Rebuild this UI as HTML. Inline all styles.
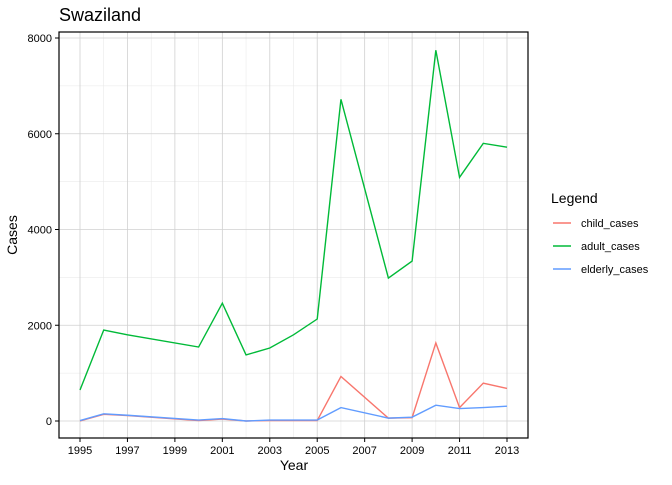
<!DOCTYPE html>
<html><head><meta charset="utf-8"><style>
body{margin:0;background:#fff;font-family:"Liberation Sans",sans-serif}
</style></head><body>
<svg id="c" width="672" height="480" xmlns="http://www.w3.org/2000/svg">
<text x="59" y="21" font-size="18" fill="#000">Swaziland</text>
<g id="grid"></g><g id="series"></g>
<rect x="59" y="32" width="469" height="406" fill="none" stroke="#000" stroke-width="1.2"/>
<g id="axes" font-size="11" fill="#000"></g>
<text x="294" y="470" font-size="14" text-anchor="middle">Year</text>
<text transform="translate(17,235) rotate(-90)" font-size="14" text-anchor="middle">Cases</text>
<g id="legend"></g>
</svg>
<script>
const years=[1995,1996,1997,2000,2001,2002,2003,2004,2005,2006,2008,2009,2010,2011,2012,2013];
const child=[0,140,115,10,40,0,10,10,10,930,60,70,1630,280,790,680];
const adult=[647,1900,1800,1545,2460,1380,1525,1800,2130,6720,2985,3340,7745,5090,5800,5720];
const elderly=[10,150,120,20,50,0,20,20,20,280,60,80,330,260,280,310];
const xTicks=[1995,1997,1999,2001,2003,2005,2007,2009,2011,2013];
const yTicks=[0,2000,4000,6000,8000];
const names=["child_cases","adult_cases","elderly_cases"];
const colors=["#F8766D","#00BA38","#619CFF"];
const NS="http://www.w3.org/2000/svg";
const x=v=>80+(v-1995)*(507-80)/18;
const y=v=>421-v*(421-38)/8000;
function mk(t,a,p){const e=document.createElementNS(NS,t);for(const k in a)e.setAttribute(k,a[k]);p.appendChild(e);return e;}
const g=document.getElementById('grid'),ax=document.getElementById('axes');
for(let v=1996;v<=2012;v+=2){const l=mk('line',{x1:x(v),x2:x(v),y1:32,y2:438,stroke:'#e6e6e6','stroke-width':0.5},g);

}
for(let v=1000;v<=7000;v+=2000){const l=mk('line',{x1:59,x2:528,y1:y(v),y2:y(v),stroke:'#e6e6e6','stroke-width':0.5},g);

}
xTicks.forEach(v=>{const l=mk('line',{x1:x(v),x2:x(v),y1:32,y2:438,stroke:'#d0d0d0','stroke-width':0.8},g);


mk('line',{x1:x(v),x2:x(v),y1:438,y2:442,stroke:'#000'},ax);
const t=mk('text',{x:x(v),y:454,'text-anchor':'middle'},ax);t.textContent=v;

});
yTicks.forEach(v=>{const l=mk('line',{x1:59,x2:528,y1:y(v),y2:y(v),stroke:'#d0d0d0','stroke-width':0.8},g);


mk('line',{x1:55,x2:59,y1:y(v),y2:y(v),stroke:'#000'},ax);
const t=mk('text',{x:52,y:y(v)+4,'text-anchor':'end'},ax);t.textContent=v;

});
const s=document.getElementById('series');
[child,adult,elderly].forEach((d,i)=>{const p=mk('polyline',{points:years.map((yr,j)=>x(yr)+','+y(d[j])).join(' '),fill:'none',stroke:colors[i],'stroke-width':1.4},s);

});
const lg=document.getElementById('legend');
const lt=mk('text',{x:551,y:203,'font-size':14},lg);lt.textContent='Legend';


names.forEach((n,i)=>{const yy=223+i*23;
const e=mk('g',{},lg);


mk('line',{x1:553,x2:571,y1:yy,y2:yy,stroke:colors[i],'stroke-width':1.4},e);
const t=mk('text',{x:581,y:yy+4,'font-size':11},e);t.textContent=n;});
</script>
</body></html>
